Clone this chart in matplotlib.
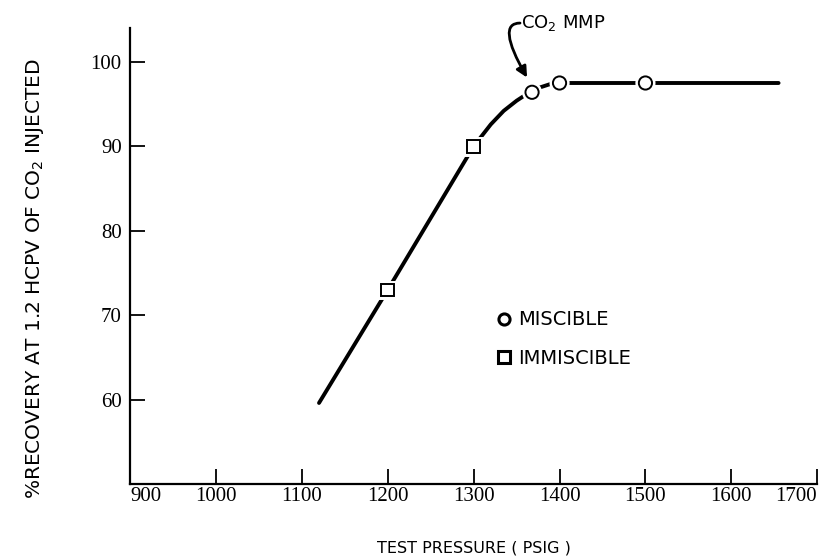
import matplotlib
matplotlib.use("Agg")
import matplotlib.pyplot as plt
from matplotlib import patheffects

# values
curve_p = [1120, 1200, 1250, 1300, 1320, 1335, 1350, 1362, 1375, 1390, 1410, 1500, 1655]
curve_r = [59.6, 73.0, 81.5, 90.0, 92.6, 94.2, 95.4, 96.2, 96.9, 97.4, 97.5, 97.5, 97.5]
miscible_p = [1368, 1400, 1500]
miscible_r = [96.4, 97.5, 97.5]
immiscible_p = [1200, 1300]
immiscible_r = [73.0, 90.0]
x_ticks = [900, 1000, 1100, 1200, 1300, 1400, 1500, 1600, 1700]
y_ticks = [60, 70, 80, 90, 100]

sans = ["DejaVu Sans"]
serif = ["Liberation Serif", "DejaVu Serif"]

fig = plt.figure(figsize=(8.23, 5.58), dpi=100)
ax = fig.add_axes([0.158, 0.1326, 0.835, 0.817])

# curve, then hollow markers on top (white halo leaves small gaps in the line)
ax.plot(curve_p, curve_r, color="black", lw=2.8, solid_capstyle="round", zorder=2)
halo = [patheffects.withStroke(linewidth=5, foreground="white")]
ax.plot(miscible_p, miscible_r, ls="none", marker="o", ms=9.5, mfc="white",
        mec="black", mew=1.4, zorder=3, path_effects=halo)
ax.plot(immiscible_p, immiscible_r, ls="none", marker="s", ms=9, mfc="white",
        mec="black", mew=1.4, zorder=3, path_effects=halo)

# legend entries
ax.plot([], [], ls="none", marker="o", ms=8, mfc="white", mec="black", mew=2.2,
        label="MISCIBLE")
ax.plot([], [], ls="none", marker="s", ms=8, mfc="white", mec="black", mew=2.2,
        label="IMMISCIBLE")
ax.legend(loc="center left", bbox_to_anchor=(0.508, 0.318), frameon=False,
          handlelength=0.8, handletextpad=0.3, labelspacing=1.0,
          prop={"family": sans, "size": 14})

# CO2 MMP arrow
ax.annotate("", xy=(1363, 98.0), xytext=(1354, 104.6),
            arrowprops=dict(arrowstyle="-|>", color="black", lw=2,
                            mutation_scale=16, shrinkA=0, shrinkB=1,
                            connectionstyle="angle3,angleA=0,angleB=120"),
            annotation_clip=False)
ax.text(1355, 104.6, "CO$_2$ MMP", fontsize=13, family=sans, va="center",
        ha="left", clip_on=False)

ax.set_xlim(900, 1700)
ax.set_ylim(50, 104)
ax.set_xticks(x_ticks)
ax.set_yticks(y_ticks)
ax.tick_params(direction="in", length=11, width=1.3, labelsize=15)
ax.tick_params(axis="x", pad=2)
ax.tick_params(axis="y", pad=6)
for lab in ax.get_xticklabels() + ax.get_yticklabels():
    lab.set_family(serif)
xlabels = ax.get_xticklabels()
xlabels[0].set_ha("left")
xlabels[-1].set_ha("right")

for side in ["top", "right"]:
    ax.spines[side].set_visible(False)
for side in ["left", "bottom"]:
    ax.spines[side].set_linewidth(1.6)

ax.set_xlabel("TEST PRESSURE ( PSIG )", fontsize=11.5, family=sans)
ax.set_ylabel("%RECOVERY AT 1.2 HCPV OF CO$_2$ INJECTED", fontsize=14.5, family=sans)
ax.xaxis.set_label_coords(0.5, -0.125)
ax.xaxis.label.set_va("top")
ax.yaxis.set_label_coords(-0.122, 0.45)

fig.savefig("out.png", dpi=100)
